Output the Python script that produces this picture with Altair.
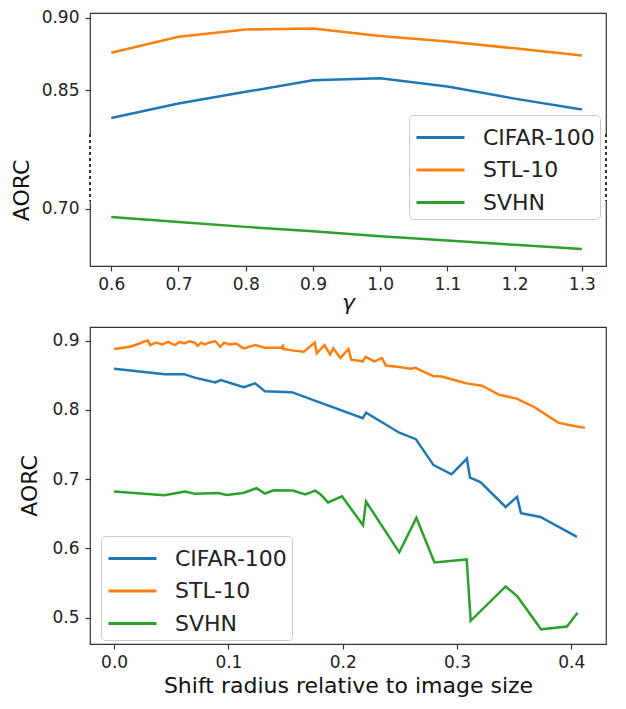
import altair as alt
import pandas as pd

series = ["CIFAR-100", "STL-10", "SVHN"]
colors = ["#1f77b4", "#ff7f0e", "#2ca02c"]

# ---- top panel: AORC vs gamma (broken y axis) ----
gamma = [0.6, 0.7, 0.8, 0.9, 1.0, 1.1, 1.2, 1.3]
gamma_cifar = [0.831, 0.841, 0.849, 0.857, 0.8584, 0.8527, 0.8443, 0.8368]
gamma_stl = [0.876, 0.887, 0.892, 0.8927, 0.8875, 0.8838, 0.879, 0.874]
gamma_svhn = [0.6943, 0.6909, 0.6875, 0.6845, 0.681, 0.6781, 0.6751, 0.6723]
top_ticks = [0.70, 0.85, 0.90]

# ---- bottom panel: AORC vs shift radius ----
cifar_x = [0.0, 0.0444, 0.0612, 0.0705, 0.0886, 0.0934, 0.1134, 0.1234, 0.1319, 0.1554,
           0.2176, 0.2205, 0.2496, 0.2640, 0.2795, 0.2952, 0.3087, 0.3114, 0.3205, 0.3426,
           0.3526, 0.3560, 0.3730, 0.4050]
cifar_y = [0.8595, 0.8515, 0.8515, 0.8465, 0.8396, 0.8430, 0.8326, 0.8382, 0.8269, 0.8255,
           0.7880, 0.7960, 0.7670, 0.7577, 0.7202, 0.7070, 0.7297, 0.7020, 0.6957, 0.6598,
           0.6744, 0.6509, 0.6453, 0.6165]

stl_x = [0.0, 0.0074, 0.014, 0.0197, 0.0295, 0.0315, 0.0366, 0.0422, 0.0473, 0.0529,
         0.0577, 0.0613, 0.066, 0.0703, 0.0732, 0.076, 0.0793, 0.083, 0.0886, 0.0928,
         0.0962, 0.101, 0.1066, 0.1134, 0.1234, 0.1319, 0.147, 0.1477, 0.148, 0.157,
         0.166, 0.1756, 0.1773, 0.184, 0.189, 0.1917, 0.198, 0.205, 0.2075, 0.2176,
         0.220, 0.2277, 0.2344, 0.2378, 0.2496, 0.2597, 0.2637, 0.279, 0.2866, 0.300,
         0.3084, 0.3219, 0.337, 0.3522, 0.3673, 0.3885, 0.398, 0.412]
stl_y = [0.8878, 0.8897, 0.8911, 0.8944, 0.9004, 0.8934, 0.8970, 0.8944, 0.8980, 0.8934,
         0.8980, 0.8960, 0.8990, 0.8970, 0.8925, 0.8970, 0.8944, 0.8970, 0.8990, 0.8911,
         0.8970, 0.8944, 0.8958, 0.8888, 0.8934, 0.8897, 0.8897, 0.8944, 0.8878, 0.8855,
         0.8840, 0.8970, 0.8817, 0.8934, 0.8800, 0.8888, 0.8747, 0.8878, 0.8724, 0.8700,
         0.8766, 0.8700, 0.8747, 0.8639, 0.8620, 0.8592, 0.8606, 0.8490, 0.8480, 0.8420,
         0.8382, 0.8349, 0.8218, 0.8162, 0.8044, 0.7815, 0.7780, 0.7740]

svhn_x = [0.0, 0.0440, 0.0622, 0.0705, 0.0914, 0.0984, 0.1130, 0.1246, 0.1320, 0.1396,
          0.1565, 0.1672, 0.1760, 0.1806, 0.1872, 0.1994, 0.2178, 0.2204, 0.2495, 0.2645,
          0.2803, 0.3085, 0.3120, 0.3426, 0.3526, 0.3736, 0.3962, 0.4055]
svhn_y = [0.6823, 0.6769, 0.6822, 0.6790, 0.6800, 0.6772, 0.6800, 0.6870, 0.6792, 0.6840,
          0.6835, 0.6779, 0.6834, 0.6780, 0.6663, 0.6752, 0.6335, 0.6677, 0.5943, 0.6441,
          0.5798, 0.5840, 0.4955, 0.5451, 0.5313, 0.4832, 0.4873, 0.5072]
bottom_xticks = [0.0, 0.1, 0.2, 0.3, 0.4]
bottom_yticks = [0.5, 0.6, 0.7, 0.8, 0.9]

# lower segment of the broken axis is drawn shifted up by this amount
SHIFT = 0.0683

top_df = pd.concat([
    pd.DataFrame({"gamma": gamma, "aorc": vals, "series": name})
    for name, vals in zip(series, [gamma_cifar, gamma_stl, gamma_svhn])
], ignore_index=True)

bottom_df = pd.concat([
    pd.DataFrame({"shift": xs, "aorc": ys, "series": name})
    for name, xs, ys in zip(series, [cifar_x, stl_x, svhn_x], [cifar_y, stl_y, svhn_y])
], ignore_index=True)

color_scale = alt.Scale(domain=series, range=colors)


def legend(x, y):
    return alt.Legend(
        title=None, orient="none", legendX=x, legendY=y,
        symbolType="M-1.5,0L1.5,0", symbolSize=1024, symbolStrokeWidth=3, symbolOffset=9,
        labelFontSize=22, labelFont="DejaVu Sans", labelColor="#222",
        labelOffset=25, rowPadding=3.5, padding=5,
        strokeColor="#cccccc", cornerRadius=4, fillColor="rgba(255,255,255,0.85)",
    )


top_y_axis = alt.Axis(values=[v + SHIFT if v < 0.8 else v for v in top_ticks],
                      labelExpr=f"format(datum.value < 0.8 ? datum.value - {SHIFT} : datum.value, '.2f')",
                      title="AORC", titleY=177, titlePadding=8)
top_y_scale = alt.Scale(domain=[0.7288, 0.9034], nice=False, zero=False)

top_lines = alt.Chart(top_df).transform_calculate(
    plot_y=f"datum.aorc < 0.8 ? datum.aorc + {SHIFT} : datum.aorc"
).mark_line(strokeWidth=2.5).encode(
    x=alt.X("gamma:Q", scale=alt.Scale(domain=[0.5684, 1.3359], nice=False, zero=False),
            axis=alt.Axis(values=gamma, format=".1f", title="γ", titleFontStyle="italic",
                          labelPadding=5, titlePadding=0)),
    y=alt.Y("plot_y:Q", scale=top_y_scale, axis=top_y_axis),
    color=alt.Color("series:N", scale=color_scale, legend=legend(319, 102)),
)

break_hi, break_lo = 0.8199, 0.774


def break_rule(xpos, color, width, dash=None):
    kw = dict(color=color, strokeWidth=width)
    if dash:
        kw["strokeDash"] = dash
    return alt.Chart(top_df).mark_rule(**kw).encode(
        x=alt.value(xpos),
        y=alt.YDatum(break_hi, axis=top_y_axis, scale=top_y_scale),
        y2=alt.Y2Datum(break_lo),
    )


top = alt.layer(
    top_lines,
    break_rule(0, "white", 3), break_rule("width", "white", 3),
    break_rule(0, "#333", 1.2, [3, 3]), break_rule("width", "#333", 1.2, [3, 3]),
).properties(width=516, height=253)

bottom = alt.Chart(bottom_df).mark_line(strokeWidth=2.5).encode(
    x=alt.X("shift:Q", scale=alt.Scale(domain=[-0.0211, 0.4304], nice=False, zero=False),
            axis=alt.Axis(values=bottom_xticks, format=".1f", labelPadding=5,
                          title="Shift radius relative to image size", titlePadding=5)),
    y=alt.Y("aorc:Q", scale=alt.Scale(domain=[0.462, 0.9196], nice=False, zero=False),
            axis=alt.Axis(values=bottom_yticks, format=".1f", title="AORC", titlePadding=10)),
    color=alt.Color("series:N", scale=color_scale, legend=legend(11, 209)),
).properties(width=516, height=317)

chart = alt.vconcat(top, bottom, spacing=12).resolve_legend(color="independent").configure(
    font="DejaVu Sans",
    padding={"left": 1, "top": 0, "right": 0, "bottom": 0},
).configure_view(
    stroke="#333", strokeWidth=1.2,
).configure_axis(
    grid=False, domain=False, ticks=True, tickSize=5, tickColor="#333", tickWidth=1.2,
    labelFont="DejaVu Sans", labelFontSize=17, labelColor="#222", labelPadding=6,
    titleFont="DejaVu Sans", titleFontSize=22, titleFontWeight="normal", titleColor="#111",
)

chart.save("out.html", embed_options={"renderer": "svg", "actions": False})
